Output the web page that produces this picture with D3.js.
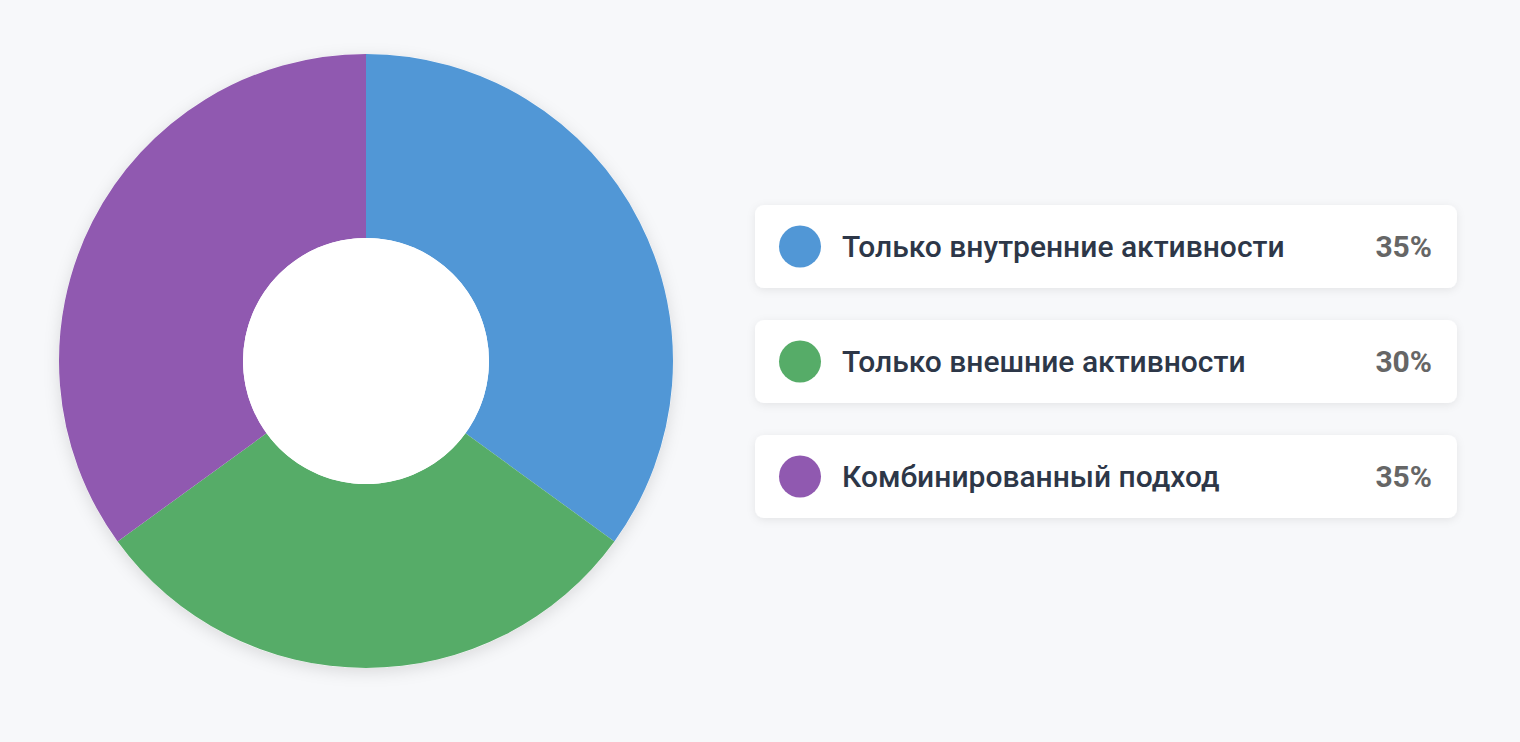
<!DOCTYPE html>
<html><head><meta charset="utf-8">
<script src="https://cdn.jsdelivr.net/npm/d3@7"></script>
<style>
html,body{margin:0;padding:0;background:#f7f8fa;}
svg{display:block;font-family:Roboto,"Noto Sans",sans-serif;}
</style></head><body>
<svg id="c" width="1520" height="742"></svg>
<script>
const categories = ["Только внутренние активности","Только внешние активности","Комбинированный подход"];
const values = [35,30,35];
const colors = ["#5197d6","#56ac68","#9059b0"];

const svg = d3.select("#c");
const defs = svg.append("defs");
const f = defs.append("filter").attr("id","sh").attr("x","-20%").attr("y","-20%").attr("width","140%").attr("height","140%");
f.append("feDropShadow").attr("dx",0).attr("dy",4).attr("stdDeviation",8).attr("flood-color","#000").attr("flood-opacity",0.12);
const f2 = defs.append("filter").attr("id","sh2").attr("x","-10%").attr("y","-30%").attr("width","120%").attr("height","160%");
f2.append("feDropShadow").attr("dx",0).attr("dy",2).attr("stdDeviation",4).attr("flood-color","#000").attr("flood-opacity",0.08);

const cx=366, cy=361, R=307, r=123;
const pie = d3.pie().sort(null).value(d=>d)(values);
const arc = d3.arc().innerRadius(r).outerRadius(R);
const g = svg.append("g").attr("transform",`translate(${cx},${cy})`);
g.append("circle").attr("r",R).attr("fill","#fff").attr("filter","url(#sh)");
g.selectAll("path").data(pie).join("path").attr("d",arc).attr("fill",(d,i)=>colors[i]);
g.append("circle").attr("r",r).attr("fill","#fff");

const y = d3.scaleBand().domain(d3.range(categories.length)).range([205,518]).paddingInner(0.278);
const leg = svg.selectAll("g.l").data(categories).join("g").attr("transform",(d,i)=>`translate(755,${y(i)})`);
const h = y.bandwidth();
leg.append("rect").attr("width",702).attr("height",h).attr("rx",9).attr("fill","#fff").attr("filter","url(#sh2)");
leg.append("circle").attr("cx",45).attr("cy",h/2).attr("r",21).attr("fill",(d,i)=>colors[i]);
leg.append("text").attr("x",87).attr("y",h/2).attr("dy","0.36em").attr("font-size",30).attr("font-weight",500).attr("fill","#2d3748").text(d=>d);
leg.append("text").attr("x",677).attr("y",h/2).attr("dy","0.36em").attr("text-anchor","end").attr("font-size",30).attr("font-weight",700).attr("fill","#666").text((d,i)=>values[i]+"%");
</script></body></html>
